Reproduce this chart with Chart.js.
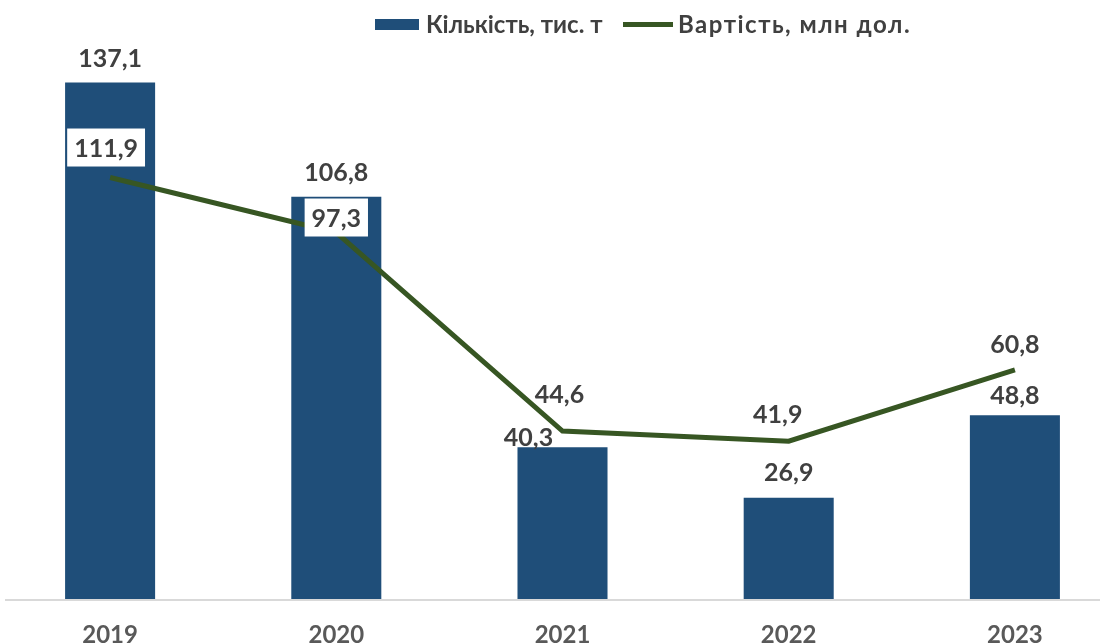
<!DOCTYPE html>
<html>
<head>
<meta charset="utf-8">
<script src="https://cdn.jsdelivr.net/npm/chart.js@4"></script>
<style>
  html, body { margin:0; padding:0; background:#fff; overflow:hidden; width:1109px; height:643px; }
  #wrap { position:absolute; left:-3px; top:0; width:1131px; height:671px; }
  .lg { position:absolute; font-family:Lato, sans-serif; font-weight:700; font-size:24px; color:#404040; line-height:1; white-space:nowrap; }
  .sw { position:absolute; }
</style>
</head>
<body>
<div id="wrap"><canvas id="c" width="1131" height="671"></canvas></div>
<div class="sw" style="left:375px;top:19px;width:44px;height:11px;background:#1F4E79"></div>
<div class="lg" id="lg1" style="left:426px;top:12px;letter-spacing:0px"></div>
<div class="sw" style="left:623px;top:22px;width:50px;height:5px;background:#375623"></div>
<div class="lg" id="lg2" style="left:678px;top:12px;letter-spacing:1.5px"></div>
<script>
const years = ['2019', '2020', '2021', '2022', '2023'];
const seriesNames = ['Кількість, тис. т', 'Вартість, млн дол.'];
const quantity = [137.1, 106.8, 40.3, 26.9, 48.8];
const value = [111.9, 97.3, 44.6, 41.9, 60.8];

document.getElementById('lg1').textContent = seriesNames[0];
document.getElementById('lg2').textContent = seriesNames[1];

const fmt = v => v.toFixed(1).replace('.', ',');

const labelPlugin = {
  id: 'valueLabels',
  beforeDatasetsDraw(chart) {
    const ctx = chart.ctx, a = chart.chartArea;
    ctx.save();
    ctx.strokeStyle = '#d9d9d9';
    ctx.lineWidth = 2;
    ctx.beginPath();
    ctx.moveTo(8, a.bottom + 1);
    ctx.lineTo(1103, a.bottom + 1);
    ctx.stroke();
    ctx.restore();
  },
  afterDatasetsDraw(chart, args, opts) {
    const ctx = chart.ctx;
    ctx.save();
    ctx.font = 'bold 25px Lato, sans-serif';
    ctx.textAlign = 'center';
    ctx.textBaseline = 'middle';
    chart.data.datasets.forEach((ds, di) => {
      const meta = chart.getDatasetMeta(di);
      const offs = opts.offsets[ds.key];
      const boxes = opts.boxes[ds.key];
      meta.data.forEach((el, i) => {
        const txt = fmt(ds.data[i]);
        const x = el.x + offs[i][0], y = el.y + offs[i][1];
        if (boxes[i]) {
          const w = ctx.measureText(txt).width + 14;
          ctx.fillStyle = '#ffffff';
          ctx.fillRect(x - w / 2, y - 19, w, 38);
        }
        ctx.fillStyle = '#404040';
        ctx.fillText(txt, x, y + 1);
      });
    });
    ctx.restore();
  }
};

new Chart(document.getElementById('c'), {
  data: {
    labels: years,
    datasets: [
      { type: 'line', key: 'line', label: seriesNames[1], data: value, borderColor: '#375623', borderWidth: 5,
        pointRadius: 0, tension: 0, fill: false, order: 0 },
      { type: 'bar', key: 'bar', label: seriesNames[0], data: quantity, backgroundColor: '#1F4E79',
        barPercentage: 0.398, categoryPercentage: 1, order: 1 }
    ]
  },
  options: {
    responsive: false,
    animation: false,
    layout: { padding: { top: 34, left: 0, right: 0, bottom: 0 } },
    plugins: {
      legend: { display: false },
      tooltip: { enabled: false },
      valueLabels: {
        offsets: {
          bar: [[0, -25], [0, -25], [-34, -10], [0, -26], [0, -20]],
          line: [[-4, -30], [0, -15], [-3, -37], [-11, -27], [0, -26]]
        },
        boxes: {
          bar: [false, false, false, false, false],
          line: [true, true, false, false, false]
        }
      }
    },
    scales: {
      x: {
        offset: true,
        grid: { display: false, drawTicks: false },
        border: { display: false },
        ticks: { color: '#595959', font: { family: 'Lato, sans-serif', size: 24, weight: 'bold', lineHeight: 1 }, padding: 24, maxRotation: 0 }
      },
      y: { display: false, min: 0, max: 150 }
    }
  },
  plugins: [labelPlugin]
});
</script>
</body>
</html>
